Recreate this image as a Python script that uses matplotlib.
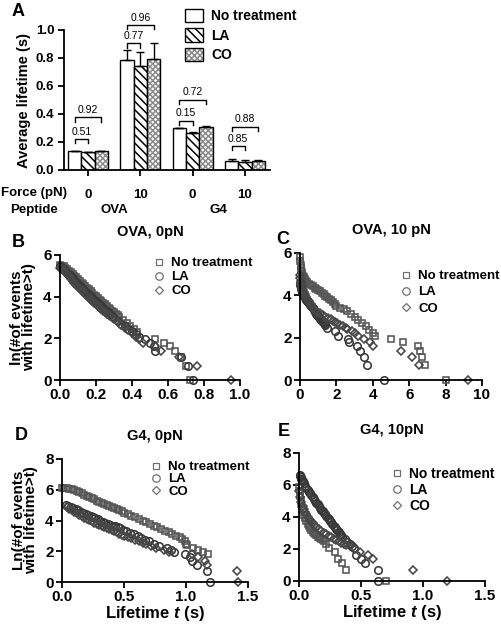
import numpy as np
import matplotlib
matplotlib.use("Agg")
import matplotlib.pyplot as plt
from matplotlib.patches import Patch
from matplotlib.transforms import blended_transform_factory
from matplotlib.ticker import FormatStrFormatter

plt.rcParams["font.family"] = ["Liberation Sans", "DejaVu Sans"]
plt.rcParams["font.weight"] = "bold"
plt.rcParams["axes.labelweight"] = "bold"
plt.rcParams["axes.titleweight"] = "bold"
plt.rcParams["mathtext.fontset"] = "custom"
plt.rcParams["mathtext.it"] = "Liberation Sans:italic:bold"
plt.rcParams["mathtext.rm"] = "Liberation Sans:bold"
plt.rcParams["hatch.linewidth"] = 1.1

# -------------------------
# Panel A data
# -------------------------
treatments = ["No treatment", "LA", "CO"]
force_labels = ["0", "10", "0", "10"]
peptide_labels = ["OVA", "G4"]
nt_mean = [0.135, 0.785, 0.297, 0.065]
la_mean = [0.125, 0.745, 0.265, 0.060]
co_mean = [0.135, 0.795, 0.307, 0.063]
nt_err = [0.004, 0.070, 0.004, 0.015]
la_err = [0.004, 0.100, 0.004, 0.008]
co_err = [0.004, 0.115, 0.004, 0.005]
# p-value brackets: group, compared bar (1=LA, 2=CO), height, text
p_group = [0, 0, 1, 1, 2, 2, 3, 3]
p_other = [1, 2, 1, 2, 1, 2, 1, 2]
p_height = [0.22, 0.375, 0.905, 1.035, 0.35, 0.50, 0.17, 0.31]
p_text = ["0.51", "0.92", "0.77", "0.96", "0.15", "0.72", "0.85", "0.88"]

# -------------------------
# Panels B-E: lifetime t (s) vs ln(# events with lifetime > t)
# -------------------------
# B: OVA, 0pN
B_nt_x = [0.00, 0.01, 0.02, 0.03, 0.04, 0.05, 0.06, 0.07, 0.08, 0.09,
          0.10, 0.11, 0.12, 0.13, 0.14, 0.15, 0.16, 0.17, 0.18, 0.19,
          0.20, 0.21, 0.22, 0.23, 0.24, 0.25, 0.26, 0.27, 0.28, 0.29,
          0.30, 0.31, 0.32, 0.33, 0.35, 0.37, 0.39, 0.41, 0.43,
          0.53, 0.58, 0.61, 0.64, 0.67, 0.70, 0.72]
B_nt_y = [5.50, 5.48, 5.45, 5.40, 5.33, 5.25, 5.17, 5.09, 5.01, 4.93,
          4.85, 4.77, 4.68, 4.60, 4.51, 4.43, 4.35, 4.26, 4.18, 4.10,
          4.02, 3.94, 3.86, 3.79, 3.71, 3.63, 3.55, 3.48, 3.40, 3.33,
          3.25, 3.17, 3.10, 3.02, 2.89, 2.75, 2.60, 2.45, 2.30,
          1.95, 1.79, 1.61, 1.39, 1.10, 0.69, 0.00]
B_la_x = [0.00, 0.01, 0.02, 0.03, 0.04, 0.05, 0.06, 0.07, 0.08, 0.09,
          0.10, 0.11, 0.12, 0.13, 0.14, 0.15, 0.16, 0.17, 0.18, 0.19,
          0.20, 0.21, 0.22, 0.23, 0.24, 0.25, 0.26, 0.27, 0.28, 0.29,
          0.30, 0.32, 0.34, 0.36, 0.38, 0.40, 0.42,
          0.44, 0.47, 0.50, 0.52, 0.53, 0.67, 0.71, 0.74]
B_la_y = [5.45, 5.40, 5.33, 5.25, 5.16, 5.07, 4.98, 4.89, 4.80, 4.71,
          4.62, 4.53, 4.44, 4.36, 4.27, 4.19, 4.10, 4.02, 3.94, 3.85,
          3.77, 3.69, 3.61, 3.53, 3.45, 3.37, 3.29, 3.21, 3.13, 3.05,
          2.98, 2.84, 2.70, 2.57, 2.45, 2.33, 2.20,
          2.08, 1.95, 1.79, 1.61, 1.39, 1.10, 0.69, 0.00]
B_co_x = [0.00, 0.01, 0.02, 0.03, 0.04, 0.05, 0.06, 0.07, 0.08, 0.09,
          0.10, 0.11, 0.12, 0.13, 0.14, 0.15, 0.16, 0.17, 0.18, 0.19,
          0.20, 0.21, 0.22, 0.23, 0.24, 0.25, 0.26,
          0.28, 0.30, 0.32, 0.34, 0.36, 0.38, 0.40,
          0.42, 0.44, 0.46, 0.53, 0.56, 0.66, 0.76, 0.95]
B_co_y = [5.40, 5.34, 5.26, 5.17, 5.07, 4.97, 4.87, 4.77, 4.67, 4.57,
          4.48, 4.39, 4.30, 4.21, 4.12, 4.04, 3.96, 3.88, 3.80, 3.72,
          3.64, 3.56, 3.48, 3.40, 3.33, 3.26, 3.19,
          3.05, 2.91, 2.77, 2.64, 2.51, 2.38, 2.25,
          2.08, 1.95, 1.79, 1.61, 1.39, 1.10, 0.69, 0.00]

# C: OVA, 10 pN
C_nt_x = [0.00, 0.02, 0.04, 0.06, 0.08, 0.10, 0.13, 0.16, 0.20, 0.25,
          0.30, 0.35, 0.40, 0.50, 0.60, 0.70, 0.80, 0.90, 1.00, 1.10,
          1.20, 1.30, 1.40, 1.50, 1.60, 1.70, 1.80, 1.90, 2.00, 2.20,
          2.40, 2.60, 2.80, 3.00, 3.20, 3.40, 3.60, 3.80, 4.00, 4.10,
          4.98, 5.64, 6.50, 6.60, 6.70, 6.85, 8.00]
C_nt_y = [5.80, 5.60, 5.45, 5.30, 5.20, 5.10, 5.00, 4.92, 4.85, 4.78,
          4.72, 4.67, 4.62, 4.55, 4.49, 4.43, 4.37, 4.31, 4.25, 4.19,
          4.12, 4.05, 3.98, 3.91, 3.84, 3.76, 3.68, 3.60, 3.50, 3.42,
          3.35, 3.25, 3.12, 3.00, 2.85, 2.70, 2.55, 2.35, 2.20, 2.08,
          1.95, 1.79, 1.61, 1.39, 1.10, 0.69, 0.00]
C_la_x = [0.00, 0.02, 0.04, 0.06, 0.08, 0.10, 0.13, 0.16, 0.20, 0.25,
          0.30, 0.35, 0.40, 0.45, 0.50, 0.55, 0.60, 0.65, 0.70, 0.75,
          0.80, 0.85, 0.90, 0.95, 1.00, 1.05, 1.10, 1.15, 1.20, 1.25,
          1.30, 1.35, 1.40,
          1.50, 1.92, 2.10, 2.65, 2.70, 3.11, 3.30, 3.54, 3.66, 4.63]
C_la_y = [4.60, 4.50, 4.42, 4.35, 4.28, 4.22, 4.15, 4.08, 4.00, 3.93,
          3.86, 3.80, 3.74, 3.68, 3.62, 3.56, 3.50, 3.44, 3.38, 3.32,
          3.26, 3.20, 3.14, 3.08, 3.02, 2.96, 2.90, 2.84, 2.79, 2.74,
          2.69, 2.64, 2.60,
          2.48, 2.30, 2.08, 1.95, 1.79, 1.61, 1.39, 1.10, 0.69, 0.00]
C_co_x = [0.00, 0.02, 0.04, 0.06, 0.08, 0.10, 0.13, 0.16, 0.20, 0.25,
          0.30, 0.35, 0.40, 0.45, 0.50, 0.60, 0.70, 0.82, 0.95, 1.10,
          1.25, 1.40, 1.56, 1.70, 1.80, 1.92, 2.05, 2.20, 2.38, 2.50,
          2.60, 2.84, 3.00, 3.20, 3.50, 3.85, 3.99, 5.55, 6.14, 6.54, 9.21]
C_co_y = [4.95, 4.80, 4.68, 4.58, 4.50, 4.42, 4.33, 4.25, 4.16, 4.07,
          3.99, 3.92, 3.85, 3.79, 3.73, 3.60, 3.47, 3.33, 3.23, 3.15,
          3.08, 3.00, 2.92, 2.86, 2.80, 2.74, 2.68, 2.61, 2.54, 2.47,
          2.40, 2.30, 2.20, 2.08, 1.95, 1.79, 1.61, 1.39, 1.10, 0.69, 0.00]

# D: G4, 0pN
D_nt_x = [0.00, 0.02, 0.04, 0.06, 0.08, 0.10, 0.12, 0.14, 0.16, 0.18,
          0.20, 0.22, 0.24, 0.26, 0.28, 0.30, 0.32, 0.34, 0.36, 0.38,
          0.40, 0.42, 0.44, 0.46, 0.48, 0.50, 0.53, 0.56, 0.59, 0.62,
          0.65, 0.68, 0.71, 0.74, 0.77, 0.80, 0.83, 0.86, 0.89, 0.92,
          0.95, 0.97, 0.99, 1.00, 1.01, 1.06, 1.10, 1.14, 1.18]
D_nt_y = [6.12, 6.11, 6.10, 6.08, 6.05, 6.00, 5.93, 5.85, 5.77, 5.69,
          5.61, 5.53, 5.45, 5.38, 5.30, 5.23, 5.16, 5.09, 5.02, 4.95,
          4.88, 4.81, 4.74, 4.67, 4.60, 4.52, 4.42, 4.32, 4.22, 4.11,
          4.00, 3.89, 3.78, 3.67, 3.56, 3.45, 3.34, 3.23, 3.12, 3.01,
          2.90, 2.80, 2.65, 2.50, 2.40, 2.20, 2.08, 1.95, 1.79]
D_la_x = [0.03, 0.05, 0.07, 0.09, 0.11, 0.13, 0.15, 0.17, 0.19, 0.21,
          0.23, 0.25, 0.27, 0.29, 0.31, 0.33, 0.35, 0.37, 0.39, 0.41,
          0.43, 0.45, 0.47, 0.49, 0.52, 0.55, 0.58, 0.61, 0.64, 0.67,
          0.70, 0.74, 0.78,
          0.85, 0.88, 0.90, 0.99, 1.03, 1.05, 1.09, 1.17, 1.19]
D_la_y = [5.00, 4.97, 4.90, 4.82, 4.74, 4.66, 4.58, 4.50, 4.42, 4.35,
          4.28, 4.21, 4.14, 4.07, 4.00, 3.93, 3.86, 3.80, 3.73, 3.67,
          3.61, 3.55, 3.48, 3.40, 3.30, 3.20, 3.10, 3.00, 2.88, 2.76,
          2.64, 2.50, 2.35,
          2.20, 2.08, 1.95, 1.79, 1.61, 1.39, 1.10, 0.69, 0.00]
D_co_x = [0.04, 0.06, 0.08, 0.10, 0.12, 0.14, 0.16, 0.18, 0.20, 0.22,
          0.24, 0.26, 0.28, 0.30, 0.32, 0.34, 0.36, 0.38, 0.40, 0.42,
          0.44, 0.46, 0.48, 0.50, 0.53, 0.56, 0.59, 0.62, 0.65, 0.68,
          0.72,
          0.76, 0.82, 0.86, 1.05, 1.10, 1.15, 1.17, 1.41, 1.42]
D_co_y = [4.85, 4.76, 4.66, 4.56, 4.46, 4.37, 4.28, 4.19, 4.10, 4.02,
          3.94, 3.86, 3.78, 3.71, 3.64, 3.57, 3.50, 3.43, 3.36, 3.29,
          3.22, 3.15, 3.08, 3.01, 2.92, 2.83, 2.74, 2.64, 2.54, 2.44,
          2.32,
          2.20, 2.08, 1.95, 1.79, 1.61, 1.39, 1.10, 0.69, 0.00]

# E: G4, 10pN
E_nt_x = [0.00, 0.005, 0.01, 0.015, 0.02, 0.03, 0.04, 0.05, 0.06, 0.07,
          0.08, 0.09, 0.10, 0.11, 0.12, 0.13, 0.14, 0.15, 0.16, 0.17,
          0.18, 0.19, 0.20,
          0.22, 0.245, 0.29, 0.315, 0.35, 0.375, 0.70]
E_nt_y = [5.90, 5.60, 5.30, 5.05, 4.82, 4.45, 4.15, 3.92, 3.72, 3.56,
          3.42, 3.30, 3.19, 3.09, 3.00, 2.92, 2.85, 2.78, 2.72, 2.66,
          2.60, 2.55, 2.50,
          2.30, 2.08, 1.79, 1.39, 1.10, 0.69, 0.00]
E_la_x = [0.005, 0.01, 0.015, 0.02, 0.025, 0.03, 0.04, 0.05, 0.06, 0.07,
          0.08, 0.09, 0.10, 0.11, 0.12, 0.13, 0.14, 0.15, 0.16, 0.17,
          0.18, 0.19, 0.20, 0.21, 0.22, 0.23, 0.24, 0.25, 0.26, 0.27,
          0.28, 0.29, 0.30, 0.31, 0.32, 0.33, 0.34, 0.35, 0.37, 0.39,
          0.41, 0.43, 0.44, 0.46, 0.50, 0.53, 0.64, 0.64]
E_la_y = [6.60, 6.55, 6.48, 6.40, 6.32, 6.24, 6.10, 5.96, 5.83, 5.70,
          5.58, 5.47, 5.36, 5.24, 5.12, 5.01, 4.90, 4.79, 4.68, 4.57,
          4.46, 4.36, 4.26, 4.16, 4.06, 3.96, 3.86, 3.76, 3.66, 3.56,
          3.46, 3.36, 3.26, 3.16, 3.06, 2.96, 2.86, 2.76, 2.60, 2.46,
          2.34, 2.20, 2.08, 1.61, 1.39, 1.10, 0.69, 0.00]
E_co_x = [0.00, 0.01, 0.02, 0.03, 0.04, 0.05, 0.06, 0.07, 0.08, 0.09,
          0.10, 0.11, 0.12, 0.14, 0.16, 0.18, 0.20, 0.22, 0.24, 0.26,
          0.28, 0.30, 0.32, 0.34, 0.36, 0.38, 0.41,
          0.45, 0.49, 0.555, 0.60, 0.92, 1.19]
E_co_y = [5.60, 5.25, 4.95, 4.70, 4.50, 4.32, 4.17, 4.03, 3.90, 3.79,
          3.69, 3.60, 3.52, 3.37, 3.24, 3.12, 3.01, 2.91, 2.82, 2.73,
          2.64, 2.56, 2.48, 2.40, 2.32, 2.25, 2.16,
          2.00, 1.79, 1.61, 1.39, 0.69, 0.00]

# -------------------------
# Figure
# -------------------------
W, H = 501, 624
fig = plt.figure(figsize=(W / 100, H / 100), dpi=100)


def px_axes(x0, x1, y_top, y_bot):
    return fig.add_axes([x0 / W, 1 - y_bot / H, (x1 - x0) / W, (y_bot - y_top) / H])


def style_axes(ax, labelsize):
    for side in ("top", "right"):
        ax.spines[side].set_visible(False)
    for side in ("left", "bottom"):
        ax.spines[side].set_linewidth(1.3)
    ax.tick_params(direction="out", length=4, width=1.3, labelsize=labelsize, pad=2)


# =========================
# (A) Average lifetime bars
# =========================
axA = px_axes(64, 270, 30, 170)
xg = np.arange(len(force_labels))
bw = 0.256
means = [nt_mean, la_mean, co_mean]
errs = [nt_err, la_err, co_err]
# hatch: LA black diagonal stripes, CO fine grey cross-hatch
hatches = [None, "\\\\\\\\", "xxxxxx"]
hatch_col = ["black", "black", "#8c8c8c"]
for k in range(3):
    pos = xg + (k - 1) * bw
    # fill + hatch (hatch colour follows edge colour)
    axA.bar(pos, means[k], bw, facecolor="white", edgecolor=hatch_col[k],
            linewidth=0, hatch=hatches[k])
    # black outline + upper error bar
    axA.bar(
        pos, means[k], bw,
        yerr=[np.zeros(len(errs[k])), errs[k]],
        fill=False, edgecolor="black", linewidth=1.0,
        error_kw=dict(elinewidth=1.0, capsize=3, capthick=1.0, ecolor="black"),
    )

for g, o, h, t in zip(p_group, p_other, p_height, p_text):
    x1 = g - bw
    x2 = g + (o - 1) * bw
    axA.plot([x1, x1, x2, x2], [h - 0.03, h, h, h - 0.03], color="black", lw=1.0, clip_on=False)
    axA.text((x1 + x2) / 2, h + 0.018, t, ha="center", va="bottom", fontsize=7.5, fontweight="normal")

axA.set_xlim(-0.46, 3.48)
axA.set_ylim(0, 1.0)
axA.set_yticks(np.arange(0, 1.01, 0.2))
axA.yaxis.set_major_formatter(FormatStrFormatter("%.1f"))
axA.set_xticks(xg, labels=force_labels)
style_axes(axA, 9.5)
axA.tick_params(axis="x", pad=10, labelsize=9.5)
axA.tick_params(axis="y", pad=3)
axA.set_ylabel("Average lifetime (s)", fontsize=10.5, labelpad=3)

fig.text(1 / W, 1 - 193 / H, "Force (pN)", fontsize=9.5, va="center", ha="left")
fig.text(10 / W, 1 - 210 / H, "Peptide", fontsize=9.5, va="center", ha="left")
trA = blended_transform_factory(axA.transData, fig.transFigure)
for i, pep in enumerate(peptide_labels):
    axA.text(2 * i + 0.5, 1 - 210 / H, pep, transform=trA, ha="center", va="center", fontsize=9.5)

legA_handles = [
    (Patch(facecolor="white", edgecolor=hc, linewidth=0, hatch=h),
     Patch(fill=False, edgecolor="black", linewidth=1.0))
    for h, hc in zip(hatches, hatch_col)
]
axA.legend(
    legA_handles, treatments, loc="upper left",
    bbox_to_anchor=(185 / W, 1 - 9 / H), bbox_transform=fig.transFigure,
    frameon=False, borderpad=0, borderaxespad=0, handlelength=1.3, handleheight=1.1,
    handletextpad=0.6, labelspacing=0.35, prop=dict(weight="bold", size=10),
)

# =========================
# (B)-(E) survival panels
# =========================
markers = ["s", "o", "D"]
msizes = [5.0, 5.4, 3.6]
mcolors = ["#555555", "#383838", "#474747"]


def survival(ax, series, xlim, xticks, xfmt, ylim, yticks, title, leg_px, leg_fs, leg_sp):
    for (xs, ys), lab, mk, ms, mc in zip(series, treatments, markers, msizes, mcolors):
        ax.plot(xs, ys, ls="none", marker=mk, ms=ms, mfc="none", mec=mc, mew=1.15,
                clip_on=False, label=lab)
    ax.set_xlim(*xlim)
    ax.set_ylim(*ylim)
    ax.set_xticks(xticks)
    ax.set_yticks(yticks)
    ax.xaxis.set_major_formatter(FormatStrFormatter(xfmt))
    ax.yaxis.set_major_formatter(FormatStrFormatter("%d"))
    style_axes(ax, 11)
    ax.set_title(title, fontsize=10.5, pad=14)
    leg = ax.legend(
        loc="upper left", bbox_to_anchor=(leg_px[0] / W, 1 - leg_px[1] / H),
        bbox_transform=fig.transFigure, frameon=False, borderpad=0, borderaxespad=0,
        handlelength=0.8, handletextpad=0.5, labelspacing=leg_sp, numpoints=1,
        prop=dict(weight="bold", size=leg_fs),
    )
    for hnd in leg.legend_handles:
        hnd.set_markeredgewidth(0.9)
        hnd.set_markeredgecolor("#707070")


axB = px_axes(60, 240, 255, 380)
survival(axB, [(B_nt_x, B_nt_y), (B_la_x, B_la_y), (B_co_x, B_co_y)],
         (0, 1.0), np.arange(0, 1.01, 0.2), "%.1f", (0, 6), [0, 2, 4, 6],
         "OVA, 0pN", (154, 257), 9.5, 0.14)
axB.set_ylabel("ln(#of events\nwith lifetime>t)", fontsize=11, linespacing=0.85, labelpad=5)

axC = px_axes(300, 482, 253, 380)
survival(axC, [(C_nt_x, C_nt_y), (C_la_x, C_la_y), (C_co_x, C_co_y)],
         (0, 10), np.arange(0, 11, 2), "%d", (0, 6), [0, 2, 4, 6],
         "OVA, 10 pN", (401, 270), 9.5, 0.3)

axD = px_axes(62, 248, 459, 582)
survival(axD, [(D_nt_x, D_nt_y), (D_la_x, D_la_y), (D_co_x, D_co_y)],
         (0, 1.5), [0.0, 0.5, 1.0, 1.5], "%.1f", (0, 8), [0, 2, 4, 6, 8],
         "G4, 0pN", (151, 461), 9.5, 0.0)
axD.set_ylabel("Ln(#of events\nwith lifetime>t)", fontsize=11, linespacing=0.85, labelpad=5)
axD.set_xlabel("Lifetime $t$ (s)", fontsize=12, labelpad=0)

axE = px_axes(299, 485, 453, 581)
survival(axE, [(E_nt_x, E_nt_y), (E_la_x, E_la_y), (E_co_x, E_co_y)],
         (0, 1.5), [0.0, 0.5, 1.0, 1.5], "%.1f", (0, 8), [0, 2, 4, 6, 8],
         "G4, 10pN", (391, 467), 10, 0.15)
axE.set_xlabel("Lifetime $t$ (s)", fontsize=12, labelpad=0)

# panel letters
for lab, (px, py) in zip("ABCDE", [(12, 12), (12, 243), (276, 240), (15, 436), (278, 432)]):
    fig.text(px / W, 1 - py / H, lab, fontsize=13, fontweight="bold", ha="left", va="center")

fig.savefig("out.png", dpi=100)
